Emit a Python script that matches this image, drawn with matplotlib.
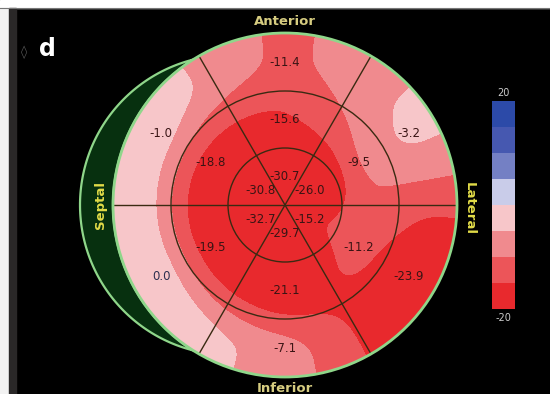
import numpy as np
import matplotlib
matplotlib.use("Agg")
import matplotlib.pyplot as plt
from matplotlib.colors import ListedColormap, BoundaryNorm
from matplotlib.patches import Circle, Rectangle, PathPatch
from matplotlib.path import Path

# segment values, sectors ordered anterior -> anterolateral -> inferolateral
# -> inferior -> inferoseptal -> anteroseptal
sector_angles = [90, 30, -30, -90, -150, 150]
basal = [-11.4, -3.2, -23.9, -7.1, 0.0, -1.0]
mid = [-15.6, -9.5, -11.2, -21.1, -19.5, -18.8]
apical = [-30.7, -26.0, -15.2, -29.7, -32.7, -30.8]

levels = [-20, -15, -10, -5, 0, 5, 10, 15, 20]
level_colors = ["#e8292d", "#ec5559", "#f08a8e", "#f7c6c9",
                "#c9cce9", "#7480c4", "#4658b0", "#2c4aa8"]

# geometry in pixels
cx, cy = 285, 205
R = 172
ring_r = [0, 57, 114, R]
ring_mid = [28.5, 85.5, 143]

fig = plt.figure(figsize=(5.5, 3.94), dpi=100, facecolor="black")
ax = fig.add_axes([0, 0, 1, 1])
ax.set_xlim(0, 550)
ax.set_ylim(394, 0)
ax.set_aspect("equal")
ax.axis("off")
ax.add_patch(Rectangle((0, 0), 550, 394, color="black", zorder=0))

# page border bits
ax.add_patch(Rectangle((0, 0), 550, 8, color="white", zorder=1))
ax.plot([0, 550], [8, 8], color="#777777", lw=0.8, zorder=2)
ax.add_patch(Rectangle((0, 8), 9, 386, color="#f2f2f2", zorder=1))
ax.add_patch(Rectangle((9, 8), 7, 386, color="#2a2828", zorder=1))

# strain surface: periodic interpolation around each ring, linear across rings
n = 500
xs = np.linspace(cx - R - 30, cx + R + 30, n)
ys = np.linspace(cy - R - 30, cy + R + 30, n)
X, Y = np.meshgrid(xs, ys)
rr = np.hypot(X - cx, Y - cy)
th = np.rad2deg(np.arctan2(-(Y - cy), X - cx))


def around(vals):
    return np.interp(th, sector_angles[::-1], vals[::-1], period=360)


profiles = [around(apical), around(mid), around(basal)]
radii = [0.0] + ring_mid + [R + 40]
Z = np.zeros_like(X)
stack = [np.full_like(X, np.mean(apical))] + profiles + [profiles[-1]]
for i in range(len(radii) - 1):
    r0, r1 = radii[i], radii[i + 1]
    m = (rr >= r0) & (rr < r1)
    f = (rr[m] - r0) / (r1 - r0)
    Z[m] = stack[i][m] * (1 - f) + stack[i + 1][m] * f
Z[rr >= radii[-1]] = profiles[-1][rr >= radii[-1]]

# soften the surface with a small gaussian kernel
step = xs[1] - xs[0]
k = np.arange(-30, 31) * step
g = np.exp(-k ** 2 / (2 * 9.0 ** 2))
g /= g.sum()
pad = 30
Zp = np.pad(Z, pad, mode="edge")
Zp = np.apply_along_axis(lambda v: np.convolve(v, g, mode="same"), 0, Zp)
Zp = np.apply_along_axis(lambda v: np.convolve(v, g, mode="same"), 1, Zp)
Z = np.clip(Zp[pad:-pad, pad:-pad], -19.9, 19.9)

cmap = ListedColormap(level_colors)
norm = BoundaryNorm(levels, cmap.N)

# septal crescent
cres_c, cres_r = 230, 150
a_hi = np.arccos((192 - cres_c) / cres_r)
t1 = np.linspace(a_hi, 2 * np.pi - a_hi, 120)
outer = np.column_stack([cres_c + cres_r * np.cos(t1), cy - cres_r * np.sin(t1)])
b = np.arccos((192 - cx) / R)
t2 = np.linspace(2 * np.pi - b, b, 120)
inner = np.column_stack([cx + R * np.cos(t2), cy - R * np.sin(t2)])
verts = np.vstack([outer, inner, outer[:1]])
codes = [Path.MOVETO] + [Path.LINETO] * (len(verts) - 2) + [Path.CLOSEPOLY]
ax.add_patch(PathPatch(Path(verts, codes), facecolor="#07300f",
                       edgecolor="#8fd68a", lw=1.6, zorder=3))

cs = ax.contourf(X, Y, Z, levels=levels, cmap=cmap, norm=norm, zorder=4)
cs.set_clip_path(Circle((cx, cy), R, transform=ax.transData))

# ring circles and spokes
for r in ring_r[1:3]:
    ax.add_patch(Circle((cx, cy), r, fill=False, ec="#3a2a12", lw=1.0, zorder=5))
for a in [0, 60, 120]:
    t = np.deg2rad(a)
    ax.plot([cx - R * np.cos(t), cx + R * np.cos(t)],
            [cy + R * np.sin(t), cy - R * np.sin(t)],
            color="#3a2a12", lw=1.0, zorder=5)
ax.add_patch(Circle((cx, cy), R, fill=False, ec="#8fd68a", lw=2.0, zorder=6))

# segment labels
for ring, rm in zip([apical, mid, basal], ring_mid):
    for v, a in zip(ring, sector_angles):
        t = np.deg2rad(a)
        col = "#2e3050" if v >= 0 else "#3a1414"
        ax.text(cx + rm * np.cos(t), cy - rm * np.sin(t), f"{v:.1f}",
                ha="center", va="center", fontsize=8.5, color=col, zorder=7)

# wall names
ax.text(cx, 21, "Anterior", ha="center", va="center", fontsize=9.5,
        fontweight="bold", color="#d6cc80")
ax.text(cx, 388, "Inferior", ha="center", va="center", fontsize=9.5,
        fontweight="bold", color="#d6cc80")
ax.text(101, 205, "Septal", ha="center", va="center", rotation=90,
        fontsize=9.5, fontweight="bold", color="#e2dc48", zorder=7)
ax.text(469, 208, "Lateral", ha="center", va="center", rotation=270,
        fontsize=9.5, fontweight="bold", color="#e2dc48")

# panel letter
ax.text(24, 52, "\u25ca", ha="center", va="center", fontsize=9, color="#555555")
ax.text(47, 49, "d", ha="center", va="center", fontsize=17,
        fontweight="bold", color="white")

# colour scale
cax = fig.add_axes([492 / 550, 1 - 309 / 394, 23 / 550, 208 / 394])
cax.pcolormesh([0, 1], levels, np.array(levels[:-1]).reshape(-1, 1) + 2.5,
               cmap=cmap, norm=norm)
cax.set_xlim(0, 1)
cax.set_ylim(-20, 20)
cax.axis("off")
ax.text(503, 93, "20", ha="center", va="center", fontsize=7, color="#cccccc")
ax.text(503, 318, "-20", ha="center", va="center", fontsize=7, color="#cccccc")

fig.savefig("out.png", dpi=100, facecolor="black")
